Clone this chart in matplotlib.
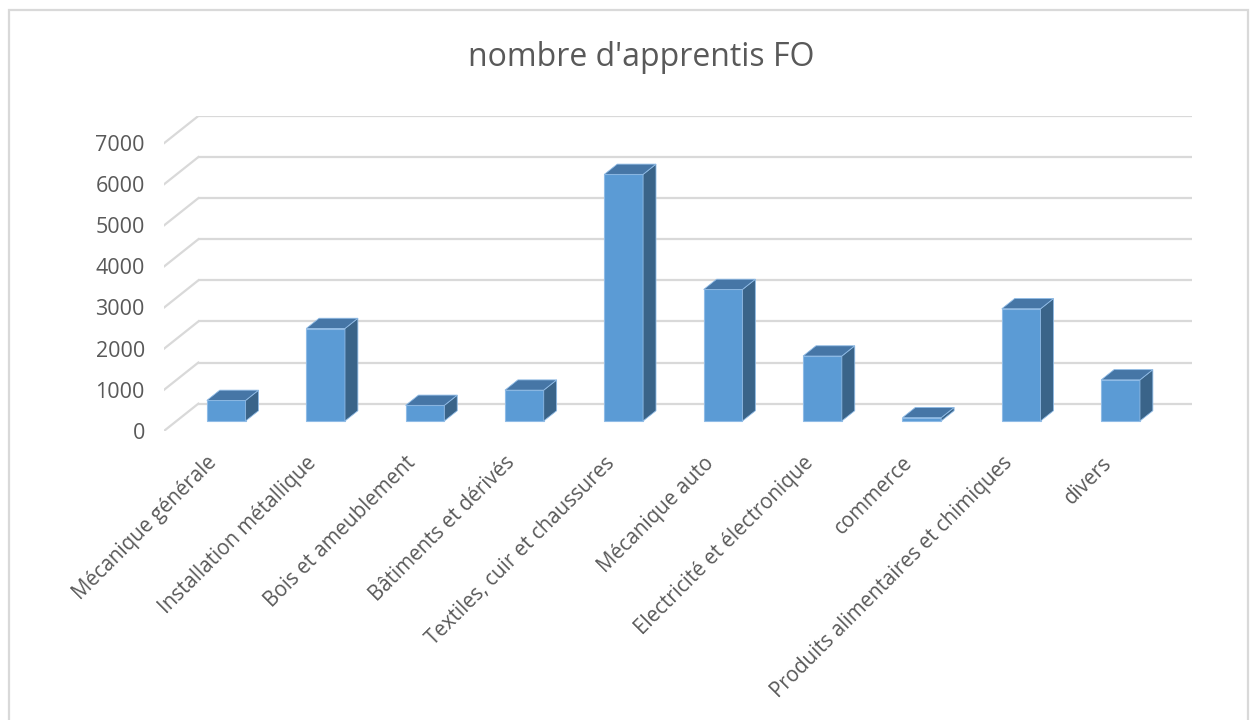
import matplotlib
matplotlib.use("Agg")
import matplotlib.pyplot as plt
from matplotlib.patches import Polygon, Rectangle
import numpy as np

plt.rcParams['font.family'] = ['Open Sans', 'DejaVu Sans']

# ---- data ----
categories = ["Mécanique générale", "Installation métallique", "Bois et ameublement",
              "Bâtiments et dérivés", "Textiles, cuir et chaussures", "Mécanique auto",
              "Electricité et électronique", "commerce",
              "Produits alimentaires et chimiques", "divers"]
values = [500, 2250, 380, 750, 6000, 3200, 1580, 80, 2730, 1000]
yticks = [0, 1000, 2000, 3000, 4000, 5000, 6000, 7000]
title = "nombre d'apprentis FO"

# ---- style / geometry ----
W, H = 1260, 720
TEXT = "#595959"
GRID = "#d9d9d9"
FRONT = "#5b9bd5"
TOP = "#4676a6"
SIDE = "#3a6489"
EDGE = "#8fbbe6"

DX, DY = 0.342, 657.0      # depth offset of the back wall (data units)
F0, FB = 0.36, 0.38        # bar front-face depth fraction, bar depth fraction
BW = 0.39                  # bar width

fig = plt.figure(figsize=(W / 100, H / 100), dpi=100)
fig.patch.set_facecolor("white")

# outer chart frame
fig.patches.append(Rectangle((9 / W, -0.05), (1248 - 9) / W, 1.05 - 10 / H,
                             transform=fig.transFigure, fill=False,
                             edgecolor=GRID, linewidth=1.6))

left_px, right_px, bottom_px, top_px = 164.3, 1192.0, 430.7, 116.0
ax = fig.add_axes([left_px / W, 1 - bottom_px / H,
                   (right_px - left_px) / W, (bottom_px - top_px) / H])
ax.set_xlim(-0.5, len(categories) - 0.5 + DX)
ax.set_ylim(0, max(yticks) + DY)
for s in ax.spines.values():
    s.set_visible(False)
ax.set_facecolor("none")

n = len(categories)
x0 = -0.5
x1 = n - 0.5
# back wall gridlines and side wall diagonals
for v in yticks:
    ax.plot([x0 + DX, x1 + DX], [v + DY, v + DY], color=GRID, lw=1.6,
            zorder=1, solid_capstyle="butt")
    ax.plot([x0, x0 + DX], [v, v + DY], color=GRID, lw=1.6, zorder=1)

# bars
x = np.arange(n)
xf = x + F0 * DX
yb = F0 * DY
ax.bar(xf, values, width=BW, bottom=yb, color=FRONT, edgecolor=EDGE,
       linewidth=0.8, zorder=3)
bdx, bdy = FB * DX, FB * DY
for xi, v in zip(xf, values):
    xl, xr = xi - BW / 2, xi + BW / 2
    top = yb + v
    side = Polygon([(xr, yb), (xr + bdx, yb + bdy), (xr + bdx, top + bdy), (xr, top)],
                   closed=True, facecolor=SIDE, edgecolor=EDGE, linewidth=0.6, zorder=3)
    topf = Polygon([(xl, top), (xr, top), (xr + bdx, top + bdy), (xl + bdx, top + bdy)],
                   closed=True, facecolor=TOP, edgecolor=EDGE, linewidth=0.6, zorder=3)
    ax.add_patch(side)
    ax.add_patch(topf)

ax.set_yticks(yticks)
ax.set_yticklabels([str(t) for t in yticks])
ax.tick_params(axis="y", length=0, pad=14, labelsize=15.5, labelcolor=TEXT)

ax.set_xticks(x)
ax.set_xticklabels(categories, rotation=45, ha="right", va="center",
                   rotation_mode="anchor")
ax.tick_params(axis="x", length=0, pad=21, labelsize=14.8, labelcolor=TEXT)

fig.text(641 / W, 1 - 57 / H, title, ha="center", va="center",
         fontsize=23, color=TEXT)

fig.savefig("out.png", dpi=100, facecolor="white")
